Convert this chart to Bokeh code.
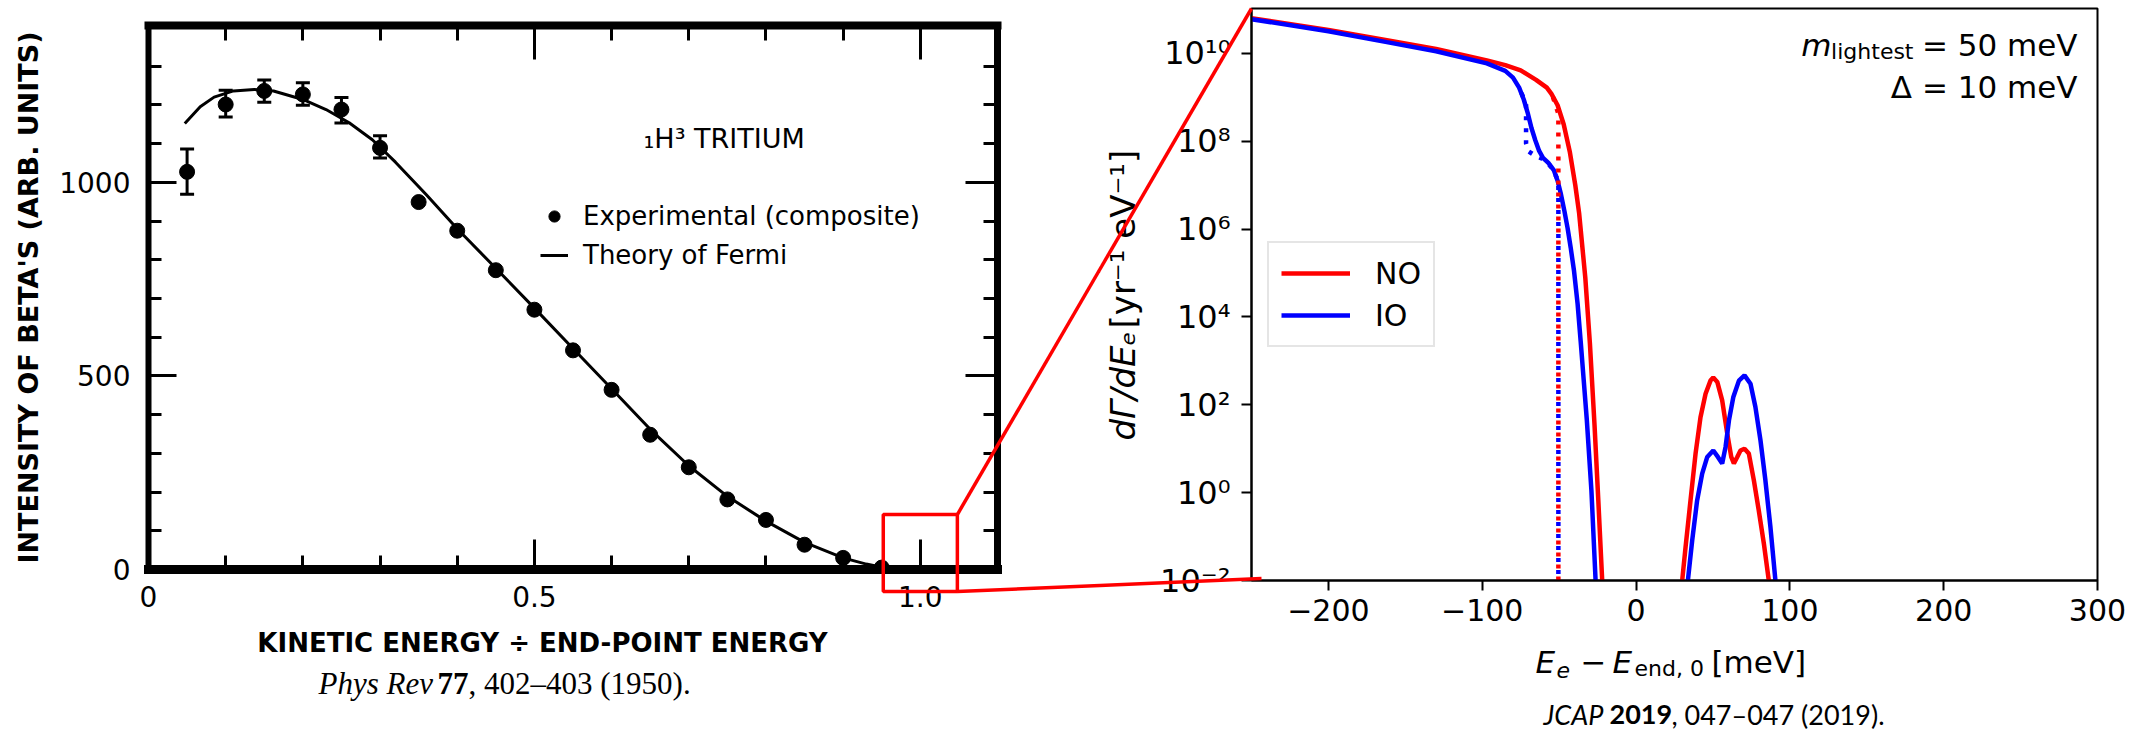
import numpy as np
from bokeh.plotting import figure
from bokeh.layouts import row, column
from bokeh.models import (ColumnDataSource, FixedTicker, LinearAxis,
                          Legend, LegendItem, Whisker, TeeHead, CustomJSTickFormatter, Range1d)
from bokeh.core.properties import value
from bokeh.embed import file_html
from bokeh.resources import INLINE

# ---------------- left panel data (Phys Rev 77, 1950) ----------------
exp_x = [0.05, 0.10, 0.15, 0.20, 0.25, 0.30, 0.35, 0.40, 0.45, 0.50,
         0.55, 0.60, 0.65, 0.70, 0.75, 0.80, 0.85, 0.90, 0.95]
exp_y = [1027, 1201, 1236, 1227, 1188, 1089, 949, 875, 773, 671,
         566, 464, 348, 264, 181, 128, 64, 30, 5]
err_x = [0.05, 0.10, 0.15, 0.20, 0.25, 0.30]
err_low = [969, 1169, 1207, 1199, 1153, 1063]
err_high = [1086, 1238, 1264, 1257, 1219, 1120]
fermi_x = [0.047, 0.067, 0.085, 0.11, 0.137, 0.162, 0.20, 0.23, 0.26, 0.29, 0.32,
           0.36, 0.40, 0.45, 0.50, 0.55, 0.60, 0.65, 0.70, 0.75, 0.80, 0.85,
           0.90, 0.93, 0.95, 0.97]
fermi_y = [1152, 1195, 1220, 1236, 1240, 1236, 1214, 1188, 1154, 1110, 1052,
           968, 880, 778, 675, 571, 467, 362, 268, 189, 125, 70,
           30, 14, 6, 0]
left_x_major = [0, 0.5, 1.0]
left_x_minor = [0.1, 0.2, 0.3, 0.4, 0.6, 0.7, 0.8, 0.9]
left_y_major = [0, 500, 1000]
left_y_minor = [100, 200, 300, 400, 600, 700, 800, 900, 1100, 1200, 1300]

# ---------------- right panel data (JCAP 2019) ----------------
no_x = [-250, -200, -162, -130, -97, -85, -75, -65, -58, -55, -51, -47, -43,
        -39.5, -37, -33, -30, -27, -24.5, -22]
no_y = [6.3e10, 3.4e10, 2.0e10, 1.26e10, 6.9e9, 5.4e9, 4.1e9, 2.5e9, 1.66e9, 1.2e9,
        6.6e8, 2.4e8, 5.6e7, 1.0e7, 2.3e6, 7.9e4, 2.5e3, 35, 0.63, 1.0e-2]
io_x = [-250, -200, -162, -130, -97, -85, -80, -76, -73, -70.5, -68, -65.5, -63,
        -60.5, -57, -53.5, -51, -49, -46.5, -44.5, -42.5, -40.3, -38, -36, -34,
        -32, -29, -26.3]
io_y = [6.0e10, 3.2e10, 1.8e10, 1.12e10, 5.9e9, 4.0e9, 2.8e9, 1.66e9, 8.9e8, 4.5e8,
        2.0e8, 1.05e8, 6.0e7, 4.2e7, 3.2e7, 2.2e7, 1.26e7, 6.6e6, 2.5e6, 1.05e6,
        3.8e5, 1.1e5, 2.0e4, 2.8e3, 355, 45, 1.1, 1.0e-2]
no_peak_x = [30.0, 32.2, 35.4, 38.7, 41.9, 45.2, 48.4, 50.2, 52.8, 56.0, 59.3, 61.9,
             63.6, 65.8, 67.9, 70.5, 73.3, 76.6, 79.8, 83.1, 86.3]
no_peak_y = [1.0e-2, 5.8e-2, 0.66, 7.8, 52, 178, 355, 417, 331, 126, 22, 6.5,
             4.6, 6.5, 9.1, 10, 7.8, 1.9, 0.39, 6.9e-2, 1.0e-2]
io_peak_x = [33.7, 36.5, 39.7, 43.0, 46.3, 50.2, 53.2, 56.0, 58.2, 60.4, 63.2, 66.9,
             70.5, 74.4, 77.6, 80.9, 84.1, 87.4, 90.6]
io_peak_y = [1.0e-2, 8.1e-2, 0.66, 2.7, 6.5, 9.1, 6.5, 4.6, 11, 44, 148, 355,
             468, 302, 89, 15.5, 1.9, 0.16, 1.0e-2]
no_dot_x = [-54, -50.5, -50.5]
no_dot_y = [1.0e9, 4.2e8, 1.0e-3]
io_dot_x = [-76, -71.5, -71.5, -70, -66, -61, -56, -52, -50.5, -50.5]
io_dot_y = [1.66e9, 7.1e8, 8.9e7, 5.9e7, 4.8e7, 4.0e7, 2.8e7, 1.6e7, 1.26e7, 1.0e-3]
right_x_ticks = [-200, -100, 0, 100, 200, 300]
right_y_ticks = [1e-2, 1e0, 1e2, 1e4, 1e6, 1e8, 1e10]

# zoom box drawn on the left panel (left-panel data units)
ZOOM = dict(x0=0.952, x1=1.048, y0=-57.0, y1=142.0)

# ---------------- geometry (window pixels) ----------------
LW, RW, H = 1100, 1042, 734
LF = dict(l=148, r=997, t=25, b=569)
RF = dict(l=1251, r=2097, t=8, b=580)
L_X, L_Y = (0.0, 1.10), (0.0, 1405.0)
R_X, R_Y = (-250.0, 300.0), (1e-2, 1.05e11)


def to_left(px, py):
    x = L_X[0] + (px - LF["l"]) / (LF["r"] - LF["l"]) * (L_X[1] - L_X[0])
    y = L_Y[0] + (LF["b"] - py) / (LF["b"] - LF["t"]) * (L_Y[1] - L_Y[0])
    return x, y


def left_px(x, y):
    px = LF["l"] + (x - L_X[0]) / (L_X[1] - L_X[0]) * (LF["r"] - LF["l"])
    py = LF["b"] - (y - L_Y[0]) / (L_Y[1] - L_Y[0]) * (LF["b"] - LF["t"])
    return px, py


def to_right(px, py):
    x = R_X[0] + (px - RF["l"]) / (RF["r"] - RF["l"]) * (R_X[1] - R_X[0])
    a, b = np.log10(R_Y[0]), np.log10(R_Y[1])
    y = 10 ** (a + (RF["b"] - py) / (RF["b"] - RF["t"]) * (b - a))
    return x, y


def put(fig, conv, px, py, text, size, font="DejaVu Sans", style="normal",
        align="left", baseline="middle", angle=0.0):
    x, y = conv(px, py)
    fig.text(x=[x], y=[y], text=[text], text_font=value(font),
             text_font_size=value(f"{size}px"), text_font_style=style,
             text_align=align, text_baseline=baseline, angle=angle,
             text_color="black", level="overlay")


# ================= LEFT FIGURE =================
pl = figure(width=LW, height=H, x_range=Range1d(*L_X), y_range=Range1d(*L_Y),
            output_backend="svg", toolbar_location=None,
            x_axis_location=None, y_axis_location=None,
            min_border_left=LF["l"], min_border_right=LW - LF["r"],
            min_border_top=LF["t"], min_border_bottom=H - LF["b"])
pl.grid.visible = False
pl.outline_line_color = None
pl.background_fill_color = "white"
pl.border_fill_color = "white"


def scan_axis(axis, lw, mj, mn, show):
    axis.axis_line_width = lw
    axis.axis_line_color = "black"
    axis.axis_line_cap = "square"
    axis.major_tick_in = mj
    axis.major_tick_out = 0
    axis.minor_tick_in = mn
    axis.minor_tick_out = 0
    axis.major_tick_line_width = 3
    axis.minor_tick_line_width = 3
    axis.major_tick_line_color = "black"
    axis.minor_tick_line_color = "black"
    axis.major_label_text_font = "DejaVu Sans"
    axis.major_label_text_font_size = "28px"
    axis.major_label_text_color = "black" if show else None


bx = LinearAxis(ticker=FixedTicker(ticks=left_x_major, minor_ticks=left_x_minor),
                formatter=CustomJSTickFormatter(code="return tick == 0 ? '0' : tick.toFixed(1);"))
scan_axis(bx, 9, 30, 14, True)
bx.major_label_standoff = 16
pl.add_layout(bx, "below")

tx = LinearAxis(ticker=FixedTicker(ticks=[0.5, 1.0], minor_ticks=left_x_minor))
scan_axis(tx, 8, 34, 15, False)
pl.add_layout(tx, "above")

ly = LinearAxis(ticker=FixedTicker(ticks=left_y_major, minor_ticks=left_y_minor))
scan_axis(ly, 6, 28, 13, True)
ly.major_label_standoff = 18
ly.axis_label = "INTENSITY OF BETA'S (ARB. UNITS)"
ly.axis_label_text_font = "DejaVu Sans"
ly.axis_label_text_font_style = "bold"
ly.axis_label_text_font_size = "27px"
ly.axis_label_text_color = "black"
ly.axis_label_standoff = 12
pl.add_layout(ly, "left")

ry_ = LinearAxis(ticker=FixedTicker(ticks=left_y_major, minor_ticks=left_y_minor))
scan_axis(ry_, 7, 32, 14, False)
pl.add_layout(ry_, "right")

fermi_r = pl.line(fermi_x, fermi_y, line_width=3, line_color="black")
pts_r = pl.scatter(exp_x, exp_y, size=15, fill_color="black", line_color="black")
pl.add_layout(Whisker(source=ColumnDataSource(dict(x=err_x, lo=err_low, hi=err_high)),
                      base="x", lower="lo", upper="hi", line_width=3, line_color="black",
                      upper_head=TeeHead(size=14, line_width=3),
                      lower_head=TeeHead(size=14, line_width=3)))

leg_l = Legend(items=[LegendItem(label="Experimental (composite)", renderers=[pts_r]),
                      LegendItem(label="Theory of Fermi", renderers=[fermi_r])],
               location=(392, 299), padding=0, margin=0, spacing=9,
               glyph_width=28, glyph_height=28, label_standoff=15,
               label_text_font="DejaVu Sans", label_text_font_size="26px",
               label_text_color="black",
               border_line_color=None, background_fill_alpha=0)
pl.add_layout(leg_l)

put(pl, to_left, 643, 138, "₁H³ TRITIUM", 27)
put(pl, to_left, 542, 642, "KINETIC ENERGY ÷ END-POINT ENERGY", 26, style="bold", align="center")
put(pl, to_left, 318, 683, "Phys Rev", 31, font="Liberation Serif", style="italic")
put(pl, to_left, 437, 683, "77", 31, font="Liberation Serif", style="bold")
put(pl, to_left, 468, 683, ", 402–403 (1950).", 31, font="Liberation Serif")

# ================= RIGHT FIGURE =================
pr = figure(width=RW, height=H, x_range=Range1d(*R_X), y_range=Range1d(*R_Y),
            y_axis_type="log", output_backend="svg", toolbar_location=None,
            min_border_left=RF["l"] - LW, min_border_right=LW + RW - RF["r"],
            min_border_top=RF["t"], min_border_bottom=H - RF["b"])
pr.grid.visible = False
pr.outline_line_color = "black"
pr.outline_line_width = 2
pr.background_fill_color = "white"
pr.border_fill_color = "white"

for ax in (pr.xaxis[0], pr.yaxis[0]):
    ax.axis_line_width = 2
    ax.major_tick_out = 10
    ax.major_tick_in = 0
    ax.major_tick_line_width = 2
    ax.minor_tick_line_color = None
    ax.major_label_text_font = "DejaVu Sans"
    ax.major_label_text_font_size = "30px"
    ax.major_label_text_color = "black"
    ax.major_label_standoff = 8
pr.yaxis[0].major_label_text_font_size = "32px"
pr.yaxis[0].major_label_standoff = 11
pr.xaxis[0].ticker = FixedTicker(ticks=right_x_ticks)
pr.xaxis[0].formatter = CustomJSTickFormatter(
    code="return tick < 0 ? '\\u2212' + (-tick) : '' + tick;")
pr.yaxis[0].ticker = FixedTicker(ticks=right_y_ticks)
pr.yaxis[0].formatter = CustomJSTickFormatter(code="""
const sup = {'-': '\\u207b', '0': '\\u2070', '1': '\\u00b9', '2': '\\u00b2', '3': '\\u00b3',
             '4': '\\u2074', '5': '\\u2075', '6': '\\u2076', '7': '\\u2077', '8': '\\u2078',
             '9': '\\u2079'};
const e = Math.round(Math.log10(tick));
return '10' + String(e).split('').map(c => sup[c]).join('');
""")

RED, BLUE = "#ff0000", "#0000ff"
no_r = pr.line(no_x, no_y, line_color=RED, line_width=4.5)
pr.line(no_peak_x, no_peak_y, line_color=RED, line_width=4.5)
io_r = pr.line(io_x, io_y, line_color=BLUE, line_width=4.5)
pr.line(io_peak_x, io_peak_y, line_color=BLUE, line_width=4.5)
pr.line(no_dot_x, no_dot_y, line_color=RED, line_width=4.5, line_dash="4 8")
pr.line(io_dot_x, io_dot_y, line_color=BLUE, line_width=4.5, line_dash="4 8",
        line_dash_offset=6)

leg_r = Legend(items=[LegendItem(label="NO", renderers=[no_r]),
                      LegendItem(label="IO", renderers=[io_r])],
               location=(16, 233), padding=12, margin=0, spacing=6,
               glyph_width=69, glyph_height=36, label_standoff=25,
               label_text_font="DejaVu Sans", label_text_font_size="30px",
               label_text_color="black",
               border_line_color="#cccccc", border_line_width=2,
               background_fill_color="white", background_fill_alpha=0.8)
pr.add_layout(leg_r)

# annotations (right)
put(pr, to_right, 2077, 44, "= 50 meV", 31, align="right")
put(pr, to_right, 1913, 51, "lightest", 22, align="right")
put(pr, to_right, 1831, 44, "m", 31, style="italic", align="right")
put(pr, to_right, 2077, 86, "Δ = 10 meV", 31, align="right")

# x label pieces
put(pr, to_right, 1535, 661, "E", 31, style="italic")
put(pr, to_right, 1556, 669, "e", 22, style="italic")
put(pr, to_right, 1580, 661, "−", 31)
put(pr, to_right, 1612, 661, "E", 31, style="italic")
put(pr, to_right, 1634, 668, "end, 0", 22)
put(pr, to_right, 1711, 661, "[meV]", 31)

# y label pieces (rotated)
put(pr, to_right, 1122, 440, "dΓ/dEₑ", 34, style="italic", angle=np.pi / 2)
put(pr, to_right, 1122, 328, "[yr⁻¹ eV⁻¹]", 34, angle=np.pi / 2)

# caption
put(pr, to_right, 1543, 714, "JCAP", 27, font="Lato", style="italic")
put(pr, to_right, 1609, 714, "2019", 27, font="Lato", style="bold")
put(pr, to_right, 1671, 714, ", 047–047 (2019).", 27, font="Lato")

# ---------- zoom box and connector lines ----------
pl.quad(left=[ZOOM["x0"]], right=[ZOOM["x1"]], bottom=[ZOOM["y0"]], top=[ZOOM["y1"]],
        fill_color=None, line_color=RED, line_width=3.5, level="overlay")
corner_top = left_px(ZOOM["x1"], ZOOM["y1"])
corner_bot = left_px(ZOOM["x1"], ZOOM["y0"])
target_top = (RF["l"], RF["t"])
target_bot = (RF["l"] + 10, RF["b"] - 2)
for a, b in [(corner_top, target_top), (corner_bot, target_bot)]:
    (x1, y1), (x2, y2) = to_left(*a), to_left(*b)
    pl.line([x1, x2], [y1, y2], line_color=RED, line_width=3.5, level="overlay")
    (x1, y1), (x2, y2) = to_right(*a), to_right(*b)
    pr.line([x1, x2], [y1, y2], line_color=RED, line_width=3.5, level="overlay")

# wrap each figure separately so the row does not align their frames
layout = row(column(pl), column(pr), spacing=0)
open("out.html", "w").write(file_html(layout, INLINE))
